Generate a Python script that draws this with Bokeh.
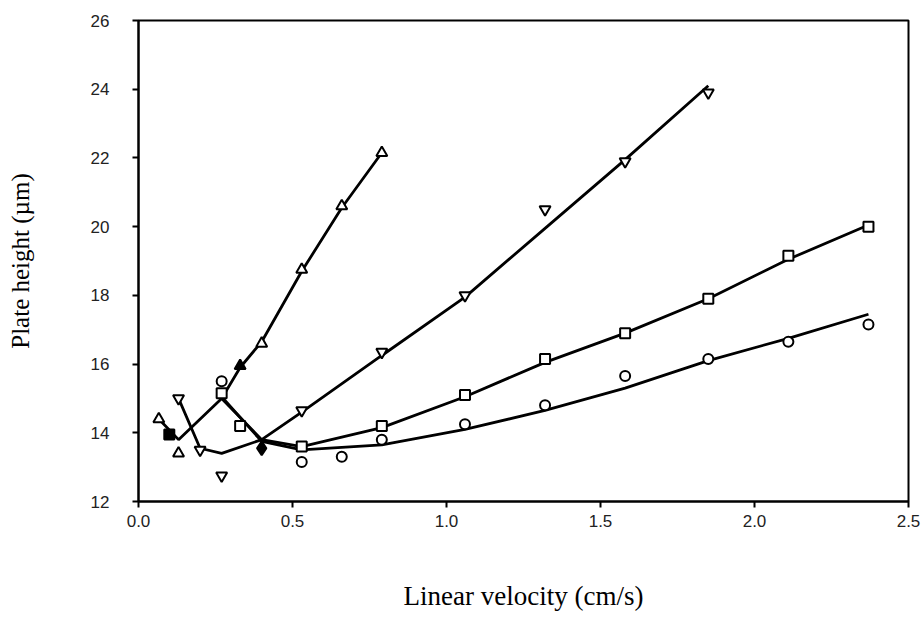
from bokeh.plotting import figure
from bokeh.models import FixedTicker, NumeralTickFormatter, Range1d
from bokeh.embed import file_html
from bokeh.resources import INLINE

# ---- data ----
x_ticks = [0.0, 0.5, 1.0, 1.5, 2.0, 2.5]
y_ticks = [12, 14, 16, 18, 20, 22, 24, 26]

tri_up_x = [0.066, 0.13, 0.40, 0.53, 0.66, 0.79]
tri_up_y = [14.4, 13.4, 16.6, 18.75, 20.6, 22.15]
tri_up_fill_x = [0.33]
tri_up_fill_y = [15.95]
tri_up_fit_x = [0.066, 0.13, 0.27, 0.33, 0.40, 0.53, 0.66, 0.79]
tri_up_fit_y = [14.4, 13.8, 15.0, 15.9, 16.65, 18.7, 20.55, 22.15]

tri_down_x = [0.13, 0.20, 0.27, 0.53, 0.79, 1.06, 1.32, 1.58, 1.85]
tri_down_y = [15.0, 13.5, 12.75, 14.65, 16.35, 18.0, 20.5, 21.9, 23.9]
tri_down_fit_x = [0.13, 0.20, 0.27, 0.40, 0.53, 0.79, 1.06, 1.32, 1.58, 1.85]
tri_down_fit_y = [15.0, 13.55, 13.4, 13.8, 14.6, 16.25, 17.95, 19.95, 21.95, 24.1]

square_x = [0.27, 0.33, 0.53, 0.79, 1.06, 1.32, 1.58, 1.85, 2.11, 2.37]
square_y = [15.15, 14.2, 13.6, 14.2, 15.1, 16.15, 16.9, 17.9, 19.15, 20.0]
square_fill_x = [0.10]
square_fill_y = [13.95]
square_fit_x = [0.27, 0.40, 0.53, 0.79, 1.06, 1.32, 1.58, 1.85, 2.11, 2.37]
square_fit_y = [15.0, 13.8, 13.6, 14.15, 15.05, 16.05, 16.9, 17.9, 19.05, 20.05]

circle_x = [0.27, 0.53, 0.66, 0.79, 1.06, 1.32, 1.58, 1.85, 2.11, 2.37]
circle_y = [15.5, 13.15, 13.3, 13.8, 14.25, 14.8, 15.65, 16.15, 16.65, 17.15]
circle_fit_x = [0.27, 0.40, 0.53, 0.79, 1.06, 1.32, 1.58, 1.85, 2.11, 2.37]
circle_fit_y = [15.05, 13.75, 13.5, 13.65, 14.1, 14.65, 15.3, 16.1, 16.75, 17.45]

diamond_fill_x = [0.40]
diamond_fill_y = [13.55]

# ---- figure ----
p = figure(width=924, height=641, output_backend="svg", toolbar_location=None,
           x_range=Range1d(0, 2.5), y_range=Range1d(12, 26),
           min_border_left=138, min_border_right=16, min_border_top=20,
           min_border_bottom=140)
p.background_fill_color = "white"
p.border_fill_color = "white"
p.outline_line_color = "black"
p.outline_line_width = 2
p.xgrid.visible = False
p.ygrid.visible = False

LW = 2.8
for fx, fy in [(tri_up_fit_x, tri_up_fit_y), (tri_down_fit_x, tri_down_fit_y),
               (square_fit_x, square_fit_y), (circle_fit_x, circle_fit_y)]:
    p.line(fx, fy, line_color="black", line_width=LW)

MS = 11
p.scatter(tri_up_x, tri_up_y, marker="triangle", size=MS, fill_color="white",
          line_color="black", line_width=2)
p.scatter(tri_up_fill_x, tri_up_fill_y, marker="triangle", size=MS, fill_color="black",
          line_color="black", line_width=2)
p.scatter(tri_down_x, tri_down_y, marker="inverted_triangle", size=MS, fill_color="white",
          line_color="black", line_width=2)
p.scatter(square_x, square_y, marker="square", size=10, fill_color="white",
          line_color="black", line_width=2)
p.scatter(square_fill_x, square_fill_y, marker="square", size=10, fill_color="black",
          line_color="black", line_width=2)
p.scatter(circle_x, circle_y, marker="circle", size=10, fill_color="white",
          line_color="black", line_width=2)
p.scatter(diamond_fill_x, diamond_fill_y, marker="diamond", size=14, fill_color="black",
          line_color="black", line_width=2)

# axes
for ax in (p.xaxis[0], p.yaxis[0]):
    ax.axis_line_color = "black"
    ax.axis_line_width = 2
    ax.major_tick_line_color = "black"
    ax.major_tick_line_width = 2
    ax.major_tick_in = 0
    ax.major_tick_out = 6
    ax.minor_tick_line_color = None
    ax.major_label_text_font = "Liberation Sans"
    ax.major_label_text_font_size = "17px"
    ax.major_label_text_color = "#222222"
    ax.axis_label_text_font = "Liberation Serif"
    ax.axis_label_text_font_style = "normal"
    ax.axis_label_text_color = "black"

p.xaxis.ticker = FixedTicker(ticks=x_ticks)
p.xaxis.formatter = NumeralTickFormatter(format="0.0")
p.xaxis.major_label_standoff = 7
p.xaxis.axis_label = "Linear velocity (cm/s)"
p.xaxis.axis_label_text_font_size = "27px"
p.xaxis.axis_label_standoff = 51

p.yaxis.ticker = FixedTicker(ticks=y_ticks)
p.yaxis.major_label_standoff = 23
p.yaxis.axis_label = "Plate height (\u00b5m)"
p.yaxis.axis_label_text_font_size = "25px"
p.yaxis.axis_label_standoff = 54

open("out.html", "w").write(file_html(p, INLINE))
